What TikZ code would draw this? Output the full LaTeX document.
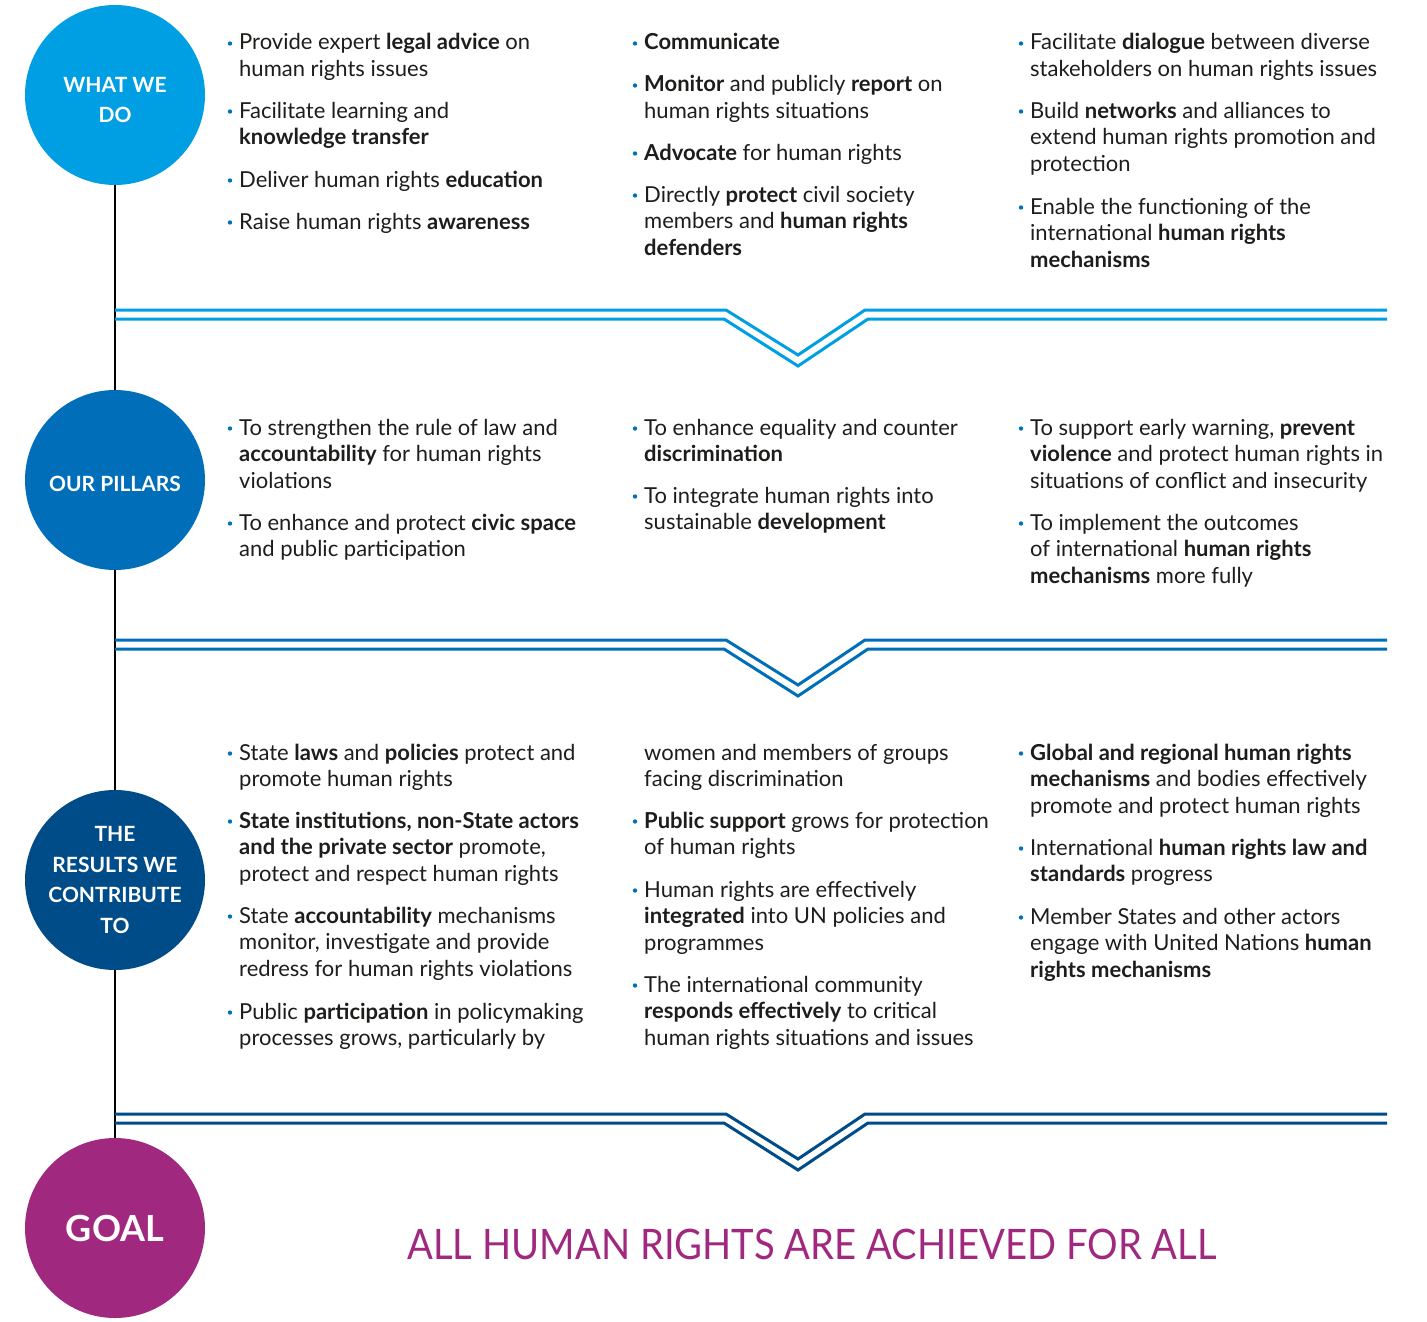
\documentclass[tikz,border=0pt]{standalone}
\usepackage{fontspec}
\setmainfont{Lato}
\usetikzlibrary{backgrounds}
\definecolor{cA}{HTML}{009FE3}
\definecolor{cB}{HTML}{006EB9}
\definecolor{cC}{HTML}{004C88}
\definecolor{cG}{HTML}{A0297F}
\definecolor{bulcol}{HTML}{0071BC}
\definecolor{txtcol}{HTML}{1D1D1B}
\tikzset{
  bodytxt/.style={anchor=base west, inner sep=0pt, text=txtcol,
    font=\fontsize{22}{26.7}\selectfont},
  disc/.style={circle, minimum size=180pt, inner sep=0pt},
  disclbl/.style={inner sep=0pt, text=white, align=center,
    font=\bfseries\fontsize{21}{30.5}\selectfont},
  chevline/.style={line width=3pt},
}
\newcommand\B[1]{\textbf{#1}}
\newcommand\bitem[4]{%
  \node[bodytxt] (#1) at (#2,#3) {\begin{tabular}[t]{@{}l@{}}#4\end{tabular}};
  \fill[bulcol] (#2-9,#3-6.5) circle[radius=2.2pt];
}
\newcommand\chev[2]{% color, upper y
  \draw[chevline,#1] (115,#2) -- (726,#2) -- (798,#2+45) -- (865,#2) -- (1387,#2);
  \draw[chevline,#1] (115,#2+9) -- (724,#2+9) -- (798,#2+56) -- (868,#2+9) -- (1387,#2+9);
}
\begin{document}
\begin{tikzpicture}[x=1pt,y=-1pt]
\useasboundingbox (0,0) rectangle (1427,1322);

% circles
\node[disc, fill=cA] (c1) at (115,95) {};
\node[disc, fill=cB] (c2) at (115,480) {};
\node[disc, fill=cC] (c3) at (115,880) {};
\node[disc, fill=cG] (goal) at (115,1228) {};
\begin{scope}[on background layer]
  \draw[line width=2.6pt, black] (c1.center) -- (goal.center);
\end{scope}
\node[disclbl] (l1) at ([yshift=-5pt]c1.center) {WHAT WE\\DO};
\node[disclbl] (l2) at ([yshift=-4pt]c2.center) {OUR PILLARS};
\node[disclbl] (l3) at (c3.center) {THE\\RESULTS WE\\CONTRIBUTE\\TO};
\node[disclbl, font=\bfseries\fontsize{36}{40}\selectfont] (l4) at (goal.center) {GOAL};

% chevrons
\chev{cA}{310}
\chev{cB}{640}
\chev{cC}{1114}

% Section 1
\bitem{a1}{239}{50}{Provide expert \B{legal advice} on\\human rights issues}
\bitem{a2}{239}{118}{Facilitate learning and\\\B{knowledge transfer}}
\bitem{a3}{239}{187}{Deliver human rights \B{education}}
\bitem{a4}{239}{229}{Raise human rights \B{awareness}}

\bitem{b1}{644}{50}{\B{Communicate}}
\bitem{b2}{644}{92}{\B{Monitor} and publicly \B{report} on\\human rights situations}
\bitem{b3}{644}{160}{\B{Advocate} for human rights}
\bitem{b4}{644}{202}{Directly \B{protect} civil society\\members and \B{human rights}\\\B{defenders}}

\bitem{d1}{1030}{50}{Facilitate \B{dialogue} between diverse\\stakeholders on human rights issues}
\bitem{d2}{1030}{118}{Build \B{networks} and alliances to\\extend human rights promotion and\\protection}
\bitem{d3}{1030}{214}{Enable the functioning of the\\international \B{human rights}\\\B{mechanisms}}

% Section 2
\bitem{e1}{239}{435}{To strengthen the rule of law and\\\B{accountability} for human rights\\violations}
\bitem{e2}{239}{530}{To enhance and protect \B{civic space}\\and public participation}

\bitem{f1}{644}{435}{To enhance equality and counter\\\B{discrimination}}
\bitem{f2}{644}{503}{To integrate human rights into\\sustainable \B{development}}

\bitem{g1}{1030}{435}{To support early warning, \B{prevent}\\\B{violence} and protect human rights in\\situations of conflict and insecurity}
\bitem{g2}{1030}{530}{To implement the outcomes\\of international \B{human rights}\\\B{mechanisms} more fully}

% Section 3
\bitem{h1}{239}{760}{State \B{laws} and \B{policies} protect and\\promote human rights}
\bitem{h2}{239}{828}{\B{State institutions, non-State actors}\\\B{and the private sector} promote,\\protect and respect human rights}
\bitem{h3}{239}{923}{State \B{accountability} mechanisms\\monitor, investigate and provide\\redress for human rights violations}
\bitem{h4}{239}{1019}{Public \B{participation} in policymaking\\processes grows, particularly by}

\node[bodytxt] (i0) at (644,760) {\begin{tabular}[t]{@{}l@{}}women and members of groups\\facing discrimination\end{tabular}};
\bitem{i1}{644}{828}{\B{Public support} grows for protection\\of human rights}
\bitem{i2}{644}{897}{Human rights are effectively\\\B{integrated} into UN policies and\\programmes}
\bitem{i3}{644}{992}{The international community\\\B{responds effectively} to critical\\human rights situations and issues}

\bitem{j1}{1030}{760}{\B{Global and regional human rights}\\\B{mechanisms} and bodies effectively\\promote and protect human rights}
\bitem{j2}{1030}{855}{International \B{human rights law and}\\\B{standards} progress}
\bitem{j3}{1030}{924}{Member States and other actors\\engage with United Nations \B{human}\\\B{rights mechanisms}}

% Goal text
\node[inner sep=0pt, anchor=base, text=cG, font=\fontsize{42}{48}\selectfont] (goaltxt) at (812,1259)
  {\scalebox{0.91}[1]{ALL HUMAN RIGHTS ARE ACHIEVED FOR ALL}};
\end{tikzpicture}
\end{document}
